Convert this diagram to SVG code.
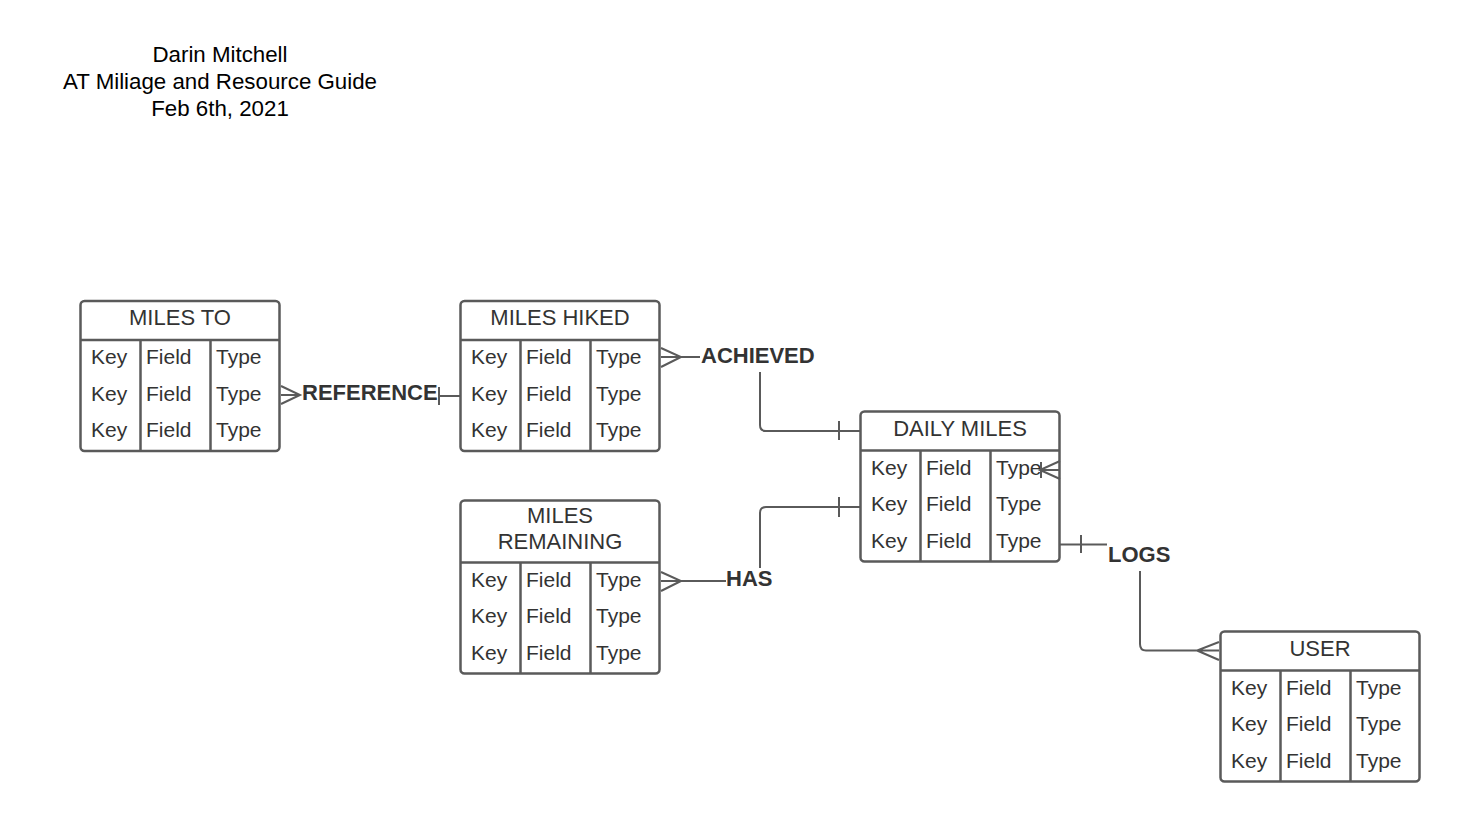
<svg xmlns="http://www.w3.org/2000/svg" width="1460" height="823" viewBox="0 0 1460 823">
<style>
.box{fill:#fff;stroke:#5a5a5a;stroke-width:2.5}
.ln{fill:none;stroke:#5a5a5a;stroke-width:2.5}
.t{font-family:"Liberation Sans",Arial,sans-serif;font-size:21px;fill:#333}
.h{text-anchor:middle;font-size:22px}
.lbl{font-family:"Liberation Sans",Arial,sans-serif;font-size:22px;font-weight:bold;fill:#333}
.title{font-family:"Liberation Sans",Arial,sans-serif;font-size:22.3px;fill:#000;text-anchor:middle}
.c{fill:none;stroke:#5a5a5a;stroke-width:2}
</style>
<rect width="1460" height="823" fill="#fff"/>
<g id="title">
<text class="title" x="220" y="62">Darin Mitchell</text>
<text class="title" x="220" y="89">AT Miliage and Resource Guide</text>
<text class="title" x="220" y="116">Feb 6th, 2021</text>
</g>
<g id="miles-to">
<rect class="box" x="80.5" y="301" width="199" height="150" rx="4"/>
<path class="ln" d="M80.5,340H279.5M140.5,340V451M210.5,340V451"/>
<text class="t h" x="180" y="325">MILES TO</text>
<text class="t" x="91" y="364">Key</text><text class="t" x="146" y="364">Field</text><text class="t" x="216" y="364">Type</text>
<text class="t" x="91" y="400.5">Key</text><text class="t" x="146" y="400.5">Field</text><text class="t" x="216" y="400.5">Type</text>
<text class="t" x="91" y="437">Key</text><text class="t" x="146" y="437">Field</text><text class="t" x="216" y="437">Type</text>
</g>
<g id="miles-hiked">
<rect class="box" x="460.5" y="301" width="199" height="150" rx="4"/>
<path class="ln" d="M460.5,340H659.5M520.5,340V451M590.5,340V451"/>
<text class="t h" x="560" y="325">MILES HIKED</text>
<text class="t" x="471" y="364">Key</text><text class="t" x="526" y="364">Field</text><text class="t" x="596" y="364">Type</text>
<text class="t" x="471" y="400.5">Key</text><text class="t" x="526" y="400.5">Field</text><text class="t" x="596" y="400.5">Type</text>
<text class="t" x="471" y="437">Key</text><text class="t" x="526" y="437">Field</text><text class="t" x="596" y="437">Type</text>
</g>
<g id="miles-remaining">
<rect class="box" x="460.5" y="500.5" width="199" height="173" rx="4"/>
<path class="ln" d="M460.5,562.5H659.5M520.5,562.5V673.5M590.5,562.5V673.5"/>
<text class="t h" x="560" y="523">MILES</text>
<text class="t h" x="560" y="549">REMAINING</text>
<text class="t" x="471" y="586.5">Key</text><text class="t" x="526" y="586.5">Field</text><text class="t" x="596" y="586.5">Type</text>
<text class="t" x="471" y="623">Key</text><text class="t" x="526" y="623">Field</text><text class="t" x="596" y="623">Type</text>
<text class="t" x="471" y="659.5">Key</text><text class="t" x="526" y="659.5">Field</text><text class="t" x="596" y="659.5">Type</text>
</g>
<g id="daily-miles">
<rect class="box" x="860.5" y="411.5" width="199" height="150" rx="4"/>
<path class="ln" d="M860.5,450.5H1059.5M920.5,450.5V561.5M990.5,450.5V561.5"/>
<text class="t h" x="960" y="436">DAILY MILES</text>
<text class="t" x="871" y="474.5">Key</text><text class="t" x="926" y="474.5">Field</text><text class="t" x="996" y="474.5">Type</text>
<text class="t" x="871" y="511">Key</text><text class="t" x="926" y="511">Field</text><text class="t" x="996" y="511">Type</text>
<text class="t" x="871" y="547.5">Key</text><text class="t" x="926" y="547.5">Field</text><text class="t" x="996" y="547.5">Type</text>
</g>
<g id="user">
<rect class="box" x="1220.5" y="631.5" width="199" height="150" rx="4"/>
<path class="ln" d="M1220.5,670.5H1419.5M1280.5,670.5V781.5M1350.5,670.5V781.5"/>
<text class="t h" x="1320" y="656">USER</text>
<text class="t" x="1231" y="694.5">Key</text><text class="t" x="1286" y="694.5">Field</text><text class="t" x="1356" y="694.5">Type</text>
<text class="t" x="1231" y="731">Key</text><text class="t" x="1286" y="731">Field</text><text class="t" x="1356" y="731">Type</text>
<text class="t" x="1231" y="767.5">Key</text><text class="t" x="1286" y="767.5">Field</text><text class="t" x="1356" y="767.5">Type</text>
</g>
<g id="connectors">
<path class="c" d="M281,386L300,395L281,404M281,395H300"/>
<path class="c" d="M438,396H460M439,387V405"/>
<text class="lbl" x="302" y="400">REFERENCE</text>
<path class="c" d="M661,348L681,357L661,367M661,357H700"/>
<text class="lbl" x="701" y="363">ACHIEVED</text>
<path class="c" d="M760,372V425Q760,431 766,431H860M839,421V440"/>
<path class="c" d="M661,572L681,581L661,591M661,581H726"/>
<text class="lbl" x="726" y="586">HAS</text>
<path class="c" d="M760,568V513Q760,507 766,507H860M839,497V517"/>
<path class="c" d="M1060,461L1040,470L1060,479M1040,470H1060M1041,462V478"/>
<path class="c" d="M1060,544.5H1107M1081,535V553"/>
<text class="lbl" x="1108" y="562">LOGS</text>
<path class="c" d="M1140,571V644Q1140,650.5 1146,650.5H1219M1219,642L1197,650.5L1219,660"/>
</g>
</svg>
